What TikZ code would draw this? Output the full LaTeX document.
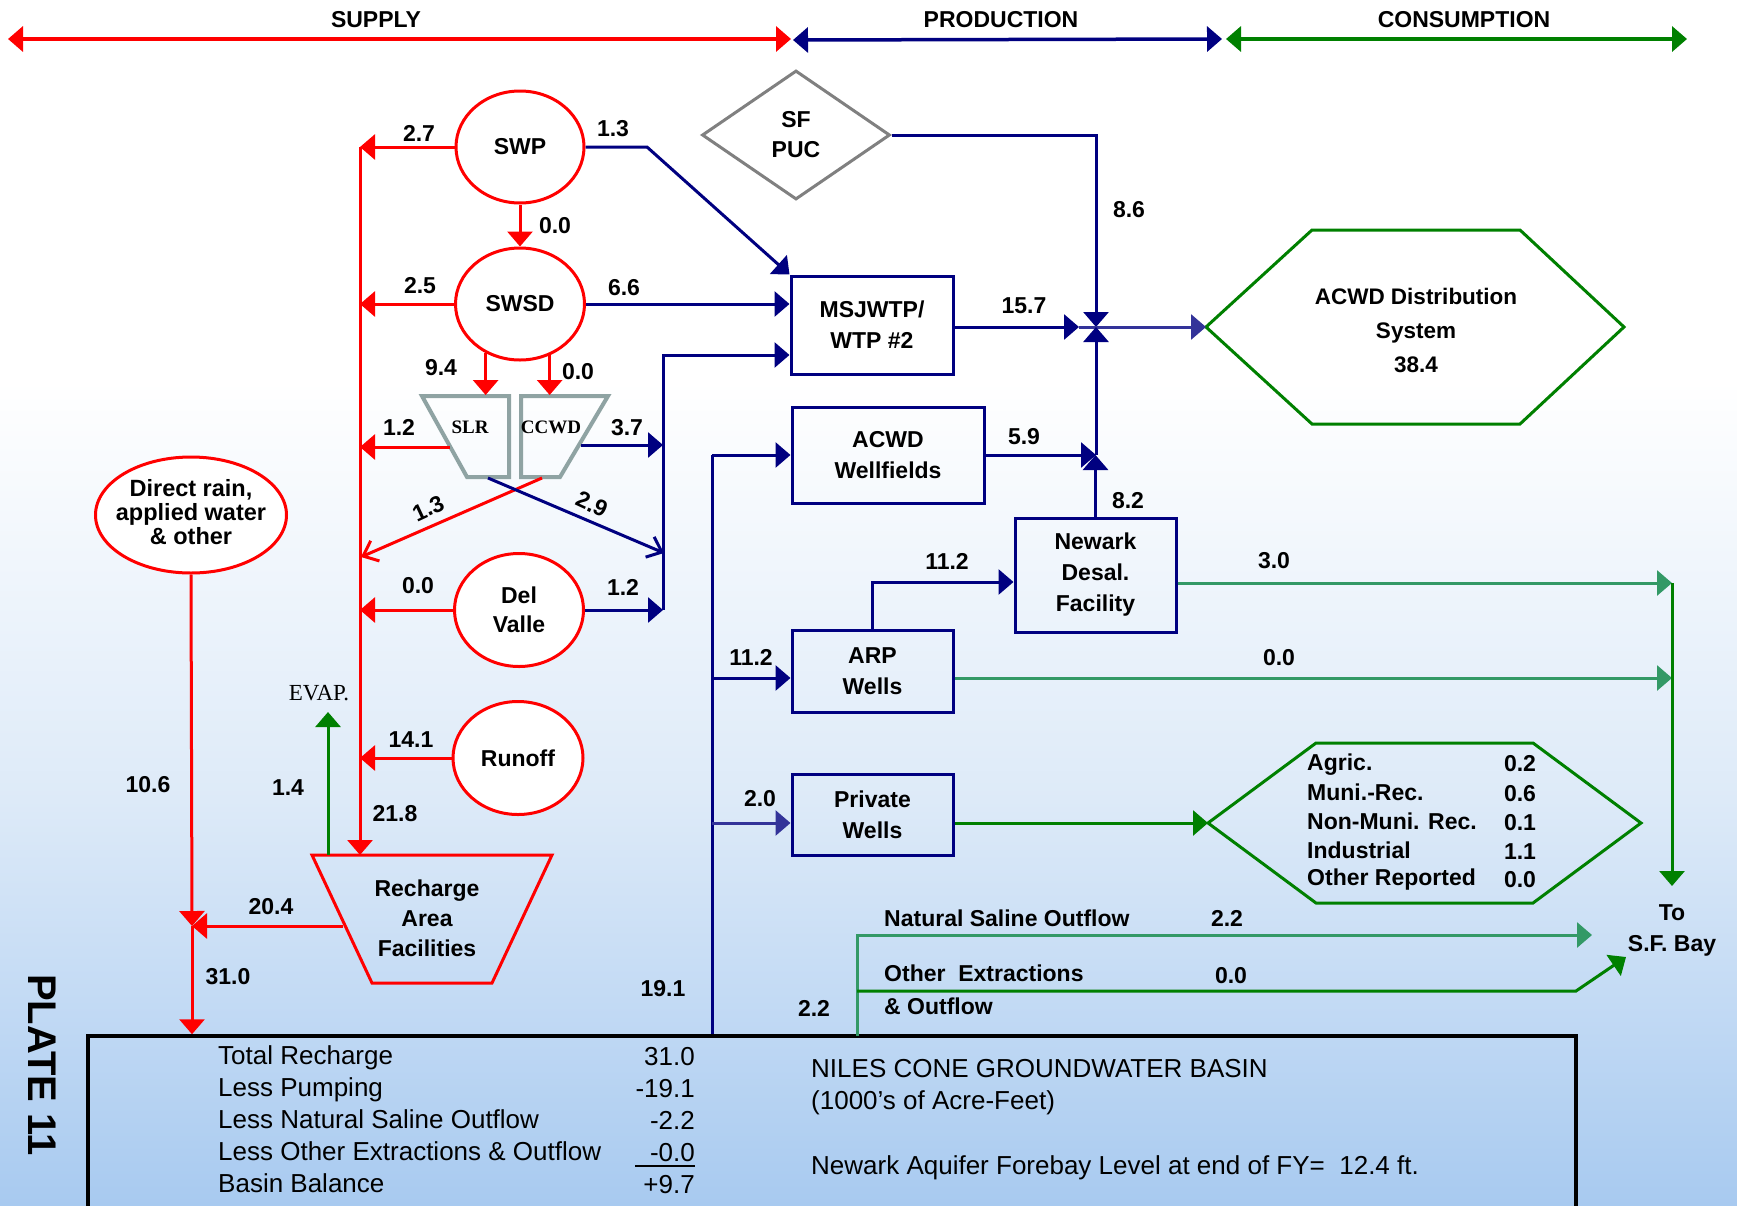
\documentclass[tikz,border=0pt]{standalone}
\usepackage{fontspec}
\setmainfont{Liberation Sans}
\newfontfamily\tnr{Liberation Serif}
\usetikzlibrary{arrows.meta,shapes.geometric,calc}
\definecolor{navyb}{HTML}{000080}
\definecolor{navyl}{HTML}{333399}
\definecolor{dgreen}{HTML}{008000}
\definecolor{sgreen}{HTML}{339966}
\definecolor{slrgray}{HTML}{8FA3A3}
\definecolor{dgray}{HTML}{808080}
\definecolor{bgmid}{HTML}{DDEAF8}
\definecolor{bgbot}{HTML}{A8CAF0}
\newcommand\lbfont{\fontsize{23}{31}\selectfont\bfseries}
\newcommand\bxfont{\fontsize{26}{32}\selectfont}
\begin{document}
\begin{tikzpicture}[x=1pt,y=-1pt,
  >={Triangle[length=15pt,width=25pt]},
  lbl/.style={font=\lbfont, inner sep=0pt, text height=16.5pt, text depth=0pt},
  mlbl/.style={font=\lbfont, inner sep=0pt, align=center},
  rell/.style={ellipse, draw=red, line width=3pt, fill=white, inner sep=0pt},
  bbox/.style={rectangle, draw=navyb, line width=3pt, inner sep=0pt, font=\lbfont, align=center},
  redl/.style={draw=red, line width=3pt},
  bluel/.style={draw=navyb, line width=3pt},
  bluell/.style={draw=navyl, line width=3pt},
  greenl/.style={draw=dgreen, line width=3pt},
  sgreenl/.style={draw=sgreen, line width=3pt},
  barb/.style={-{Straight Barb[length=13pt,width=22pt]}},
  btx/.style={font=\bxfont, inner sep=0pt, text height=18.6pt, text depth=0pt},
  slrtxt/.style={font=\fontsize{19}{19}\tnr\bfseries, inner sep=0pt}
]
\useasboundingbox (0,0) rectangle (1737,1205);
\clip (0,0) rectangle (1737,1205);
% background
\fill[white] (0,0) rectangle (1737,1205);
\shade[top color=white,bottom color=bgmid] (0,380) rectangle (1737,801);
\shade[top color=bgmid,bottom color=bgbot] (0,800) rectangle (1737,1205);

% ---------- header ----------
\node[lbl] (supply) at (376,19) {SUPPLY};
\node[lbl] (production) at (1001,19) {PRODUCTION};
\node[lbl] (consumption) at (1464,19) {CONSUMPTION};
\coordinate (s1) at (8,39); \coordinate (s2) at (791,39);
\coordinate (p1) at (793,40); \coordinate (p2) at (1222,39);
\coordinate (c1) at (1226,39); \coordinate (c2) at (1687,39);
\draw[red,line width=3.5pt,<->] (s1) -- (s2);
\draw[navyb,line width=3.5pt,<->] (p1) -- (p2);
\draw[dgreen,line width=3.5pt,<->] (c1) -- (c2);

% ---------- supply nodes ----------
\node[rell, minimum width=128pt, minimum height=112pt, font=\lbfont] (swp) at (520,147) {SWP};
\node[rell, minimum width=129pt, minimum height=112pt, font=\lbfont] (swsd) at (520,304) {SWSD};
\node[rell, minimum width=129pt, minimum height=113pt] (dv) at (519,610) {};
\node[mlbl, font=\fontsize{23}{29}\selectfont\bfseries] (dvt) at (dv) {Del\\Valle};
\node[rell, minimum width=130pt, minimum height=113pt, font=\lbfont] (runoff) at (518,758) {Runoff};
\node[rell, minimum width=191pt, minimum height=116pt] (rain) at (191,515) {};
\node[mlbl, font=\fontsize{23.5}{24}\selectfont\bfseries] (raint) at (191,512) {Direct rain,\\applied water\\\& other};

% SLR / CCWD
\draw[slrgray, line width=4pt] (422,396) -- (509,396) -- (509,477) -- (467,477) -- cycle;
\draw[slrgray, line width=4pt] (521,396) -- (608,396) -- (560,477) -- (521,477) -- cycle;
\node[slrtxt] (slr) at (470,427) {SLR};
\node[slrtxt] (ccwd) at (551,427) {CCWD};

% Recharge
\draw[red, line width=3pt] (312,855) -- (552,855) -- (492,983) -- (372,983) -- cycle;
\node[mlbl, font=\fontsize{23}{30}\selectfont\bfseries] (rech) at (427,918) {Recharge\\Area\\Facilities};

% EVAP
\node[font=\fontsize{23}{23}\tnr, inner sep=0pt] (evap) at (319,693) {EVAP.};
\coordinate (ev0) at (328,855); \coordinate (ev1) at (328,712);
\draw[greenl,->] (ev0) -- (ev1);

% ---------- production nodes ----------
\node[diamond, draw=dgray, line width=3pt, minimum width=188pt, minimum height=129pt, aspect=1.46, inner sep=0pt, align=center, font=\fontsize{23}{30}\selectfont\bfseries] (sfpuc) at (796,135) {SF\\PUC};
\node[bbox, minimum width=162pt, minimum height=98pt] (msj) at (872,325) {MSJWTP/\\WTP \#2};
\node[bbox, minimum width=192pt, minimum height=96pt] (wf) at (888,455) {ACWD\\Wellfields};
\node[bbox, minimum width=161pt, minimum height=114pt] (newark) at (1095.5,575) {Newark\\Desal.\\Facility};
\node[bbox, minimum width=161pt, minimum height=82pt] (arp) at (872.5,671) {ARP\\Wells};
\node[bbox, minimum width=161pt, minimum height=81pt] (pw) at (872.5,814.5) {Private\\Wells};

% ---------- consumption ----------
\coordinate (hxL) at (1206,327);
\draw[dgreen, line width=3pt] (hxL) -- (1312,230) -- (1520,230) -- (1624,327) -- (1520,424) -- (1312,424) -- cycle;
\node[mlbl, font=\fontsize{22.5}{34}\selectfont\bfseries] (acwd) at (1416,330) {ACWD Distribution\\System\\38.4};

\coordinate (hyL) at (1208,823);
\draw[dgreen, line width=3pt] (hyL) -- (1316,743) -- (1533,743) -- (1641,823) -- (1533,903) -- (1316,903) -- cycle;
\node[lbl, anchor=west] (h1) at (1307,762) {Agric.};
\node[lbl, anchor=west] (h2) at (1307,792) {Muni.-Rec.};
\node[lbl, anchor=west] (h3) at (1307,821) {Non-Muni. Rec.};
\node[lbl, anchor=west] (h4) at (1307,850) {Industrial};
\node[lbl, anchor=west] (h5) at (1307,877) {Other Reported};
\node[lbl] (n1) at (1520,763) {0.2};
\node[lbl] (n2) at (1520,793) {0.6};
\node[lbl] (n3) at (1520,822) {0.1};
\node[lbl] (n4) at (1520,851) {1.1};
\node[lbl] (n5) at (1520,879) {0.0};

\node[mlbl] (sfbay) at (1672,930) {To\\S.F. Bay};

% ---------- basin box ----------
\node[draw=black, line width=3.5pt, minimum width=1488pt, minimum height=300pt, inner sep=0pt] (basin) at (832,1186) {};
\node[btx, anchor=west] (b1) at (218,1055) {Total Recharge};
\node[btx, anchor=west] (b2) at (218,1087) {Less Pumping};
\node[btx, anchor=west] (b3) at (218,1119) {Less Natural Saline Outflow};
\node[btx, anchor=west] (b4) at (218,1151) {Less Other Extractions \& Outflow};
\node[btx, anchor=west] (b5) at (218,1183) {Basin Balance};
\node[btx, anchor=east] (v1n) at (695,1056) {31.0};
\node[btx, anchor=east] (v2n) at (695,1088) {-19.1};
\node[btx, anchor=east] (v3n) at (695,1120) {-2.2};
\node[btx, anchor=east] (v4n) at (695,1152) {-0.0};
\node[btx, anchor=east] (v5n) at (695,1184) {+9.7};
\draw[black, line width=2pt] (635,1166) -- (695,1166);
\node[btx, anchor=west] (t1) at (811,1068) {NILES CONE GROUNDWATER BASIN};
\node[btx, anchor=west] (t2) at (811,1100) {(1000’s of Acre-Feet)};
\node[btx, anchor=west] (t3) at (811,1165) {Newark Aquifer Forebay Level at end of FY=\ \ 12.4 ft.};

\node[font=\fontsize{40}{40}\selectfont\bfseries, rotate=-90, inner sep=0pt] (plate) at (42,1065) {PLATE 11};

% ---------- red connectors ----------
\coordinate (tr1) at (360,147);
\coordinate (tr2) at (360,304);
\coordinate (tr3) at (360,447);
\coordinate (tr4) at (361,557);
\coordinate (tr5) at (360,610);
\coordinate (tr6) at (360,758);
\coordinate (tr7) at (360,855);
\draw[redl,->] (tr1) -- (tr7);
\draw[redl,->] (swp.west) -- (tr1);
\draw[redl,->] (swsd.west) -- (tr2);
\coordinate (slrL) at (450,447);
\draw[redl,->] (slrL) -- (tr3);
\coordinate (ccwdB) at (542,478);
\draw[redl,barb] (ccwdB) -- (tr4);
\draw[redl,->] (dv.west) -- (tr5);
\draw[redl,->] (runoff.west) -- (tr6);
\draw[redl,->] (swp.south) -- (swsd.north);
\coordinate (slrT) at (486,395);
\coordinate (ccwdT) at (549,395);
\draw[redl,->] (swsd.235) -- (swsd.235 |- slrT);
\draw[redl,->] (swsd.300) -- (swsd.300 |- ccwdT);
\coordinate (rechL) at (343,926);
\coordinate (lj) at (192,926);
\draw[redl,->] (rechL) -- (lj);
\draw[redl,->] (rain.south) -- (lj);
\draw[redl,->] (lj) -- (lj |- basin.north);

% ---------- blue connectors ----------
\coordinate (sb1) at (647,147);
\draw[bluel,->] (swp.east) -- (sb1) -- (msj.north west);
\draw[bluel,->] (swsd.east) -- (msj.west |- swsd.east);
\coordinate (v0) at (663,355);
\coordinate (v1) at (663,445);
\coordinate (v2) at (664,553);
\coordinate (v3) at (663,610);
\draw[bluel,->] (v3) -- (v0) -- (msj.west |- v0);
\coordinate (ccwdR) at (581,445);
\draw[bluel,->] (ccwdR) -- (v1);
\coordinate (slrB) at (488,478);
\draw[bluel,barb] (slrB) -- (v2);
\draw[bluel,->] (dv.east) -- (v3);

\coordinate (J) at (1096,327);
\coordinate (Jl) at (1079,327);
\coordinate (J2) at (1096,455);
\draw[bluel,->] (sfpuc.east) -| (J);
\draw[bluel,->] (msj.east |- J) -- (Jl);
\draw[bluell,->] (Jl) -- (hxL);
\draw[bluel,->] (wf.east) -- (J2);
\draw[bluel,->] (newark.north) -- (newark.north |- J2);
\draw[bluel,->] (J2) -- (J);

\coordinate (wt0) at (712,455);
\coordinate (wt1) at (712,678);
\coordinate (wt2) at (712,823);
\draw[bluel] (wt0 |- basin.north) -- (wt0);
\draw[bluel,->] (wt0) -- (wf.west);
\draw[bluel,->] (wt1) -- (arp.west |- wt1);
\draw[bluell,->] (wt2) -- (pw.west |- wt2);
\coordinate (nw) at (1015,582);
\draw[bluel,->] (arp.north) |- (newark.west |- nw);

% ---------- green connectors ----------
\coordinate (gv1) at (1672,583);
\coordinate (gv2) at (1672,678);
\coordinate (gv3) at (1672,886);
\draw[sgreenl,->] (newark.east |- gv1) -- (gv1);
\draw[sgreenl,->] (arp.east |- gv2) -- (gv2);
\draw[greenl,->] (gv1) -- (gv3);
\draw[greenl,->] (pw.east |- hyL) -- (hyL);

\coordinate (ns0) at (857,1036);
\coordinate (ns1) at (857,935);
\coordinate (ns2) at (1592,935);
\draw[sgreenl,->] (ns0) -- (ns1) -- (ns2);
\coordinate (oe0) at (857,991);
\coordinate (oe1) at (1576,991);
\coordinate (oe2) at (1626,957);
\draw[greenl,->] (oe0) -- (oe1) -- (oe2);
\node[lbl, anchor=west] (nso) at (884,918) {Natural Saline Outflow};
\node[lbl, anchor=west] (oex) at (884,973) {Other\ \ Extractions};
\node[lbl, anchor=west] (oeo) at (884,1006) {\& Outflow};

% ---------- number labels ----------
\node[lbl] (l1) at (419,133) {2.7};
\node[lbl] (l2) at (613,128) {1.3};
\node[lbl] (l3) at (555,225) {0.0};
\node[lbl] (l4) at (420,285) {2.5};
\node[lbl] (l5) at (624,287) {6.6};
\node[lbl] (l6) at (441,367) {9.4};
\node[lbl] (l7) at (578,371) {0.0};
\node[lbl] (l8) at (399,427) {1.2};
\node[lbl] (l9) at (627,427) {3.7};
\node[lbl, rotate=25] (l10) at (428,508) {1.3};
\node[lbl, rotate=-25] (l11) at (592,504) {2.9};
\node[lbl] (l12) at (418,585) {0.0};
\node[lbl] (l13) at (623,587) {1.2};
\node[lbl] (l14) at (411,739) {14.1};
\node[lbl] (l15) at (395,813) {21.8};
\node[lbl] (l16) at (148,784) {10.6};
\node[lbl] (l17) at (288,787) {1.4};
\node[lbl] (l18) at (271,906) {20.4};
\node[lbl] (l19) at (228,976) {31.0};
\node[lbl] (l20) at (663,988) {19.1};
\node[lbl] (l21) at (814,1008) {2.2};
\node[lbl] (l22) at (1129,209) {8.6};
\node[lbl] (l23) at (1024,305) {15.7};
\node[lbl] (l24) at (1024,436) {5.9};
\node[lbl] (l25) at (1128,500) {8.2};
\node[lbl] (l26) at (947,561) {11.2};
\node[lbl] (l27) at (751,657) {11.2};
\node[lbl] (l28) at (760,798) {2.0};
\node[lbl] (l29) at (1274,560) {3.0};
\node[lbl] (l30) at (1279,657) {0.0};
\node[lbl] (l31) at (1227,918) {2.2};
\node[lbl] (l32) at (1231,975) {0.0};
\end{tikzpicture}
\end{document}
